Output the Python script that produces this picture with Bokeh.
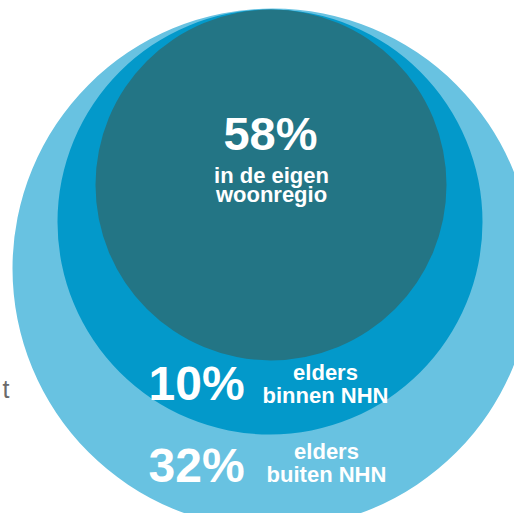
from bokeh.plotting import figure
from bokeh.models import Range1d, ColumnDataSource
from bokeh.core.properties import value
from bokeh.embed import file_html
from bokeh.resources import INLINE

# ---- data ----
categories = ["elders buiten NHN", "elders binnen NHN", "in de eigen woonregio"]
percentages = [32, 10, 58]
pct_labels = ["32%", "10%", "58%"]
desc_line1 = ["elders", "elders", "in de eigen"]
desc_line2 = ["buiten NHN", "binnen NHN", "woonregio"]
side_text = ["t"]

# ---- layout / style (pixel space of the picture) ----
circle_x = [272, 269.5, 270.5]
circle_y = [268, 221.5, 184.5]
circle_r = [260, 212.5, 175.5]
colors = ["#68C2E1", "#0399CA", "#237585"]

W, H = 514, 513
p = figure(width=W, height=H, output_backend="svg", toolbar_location=None,
           x_range=Range1d(0, W), y_range=Range1d(H, 0), min_border=0)
p.axis.visible = False
p.grid.visible = False
p.outline_line_color = None
p.background_fill_color = "white"
p.border_fill_color = "white"

src = ColumnDataSource(dict(x=circle_x, y=circle_y, r=circle_r, c=colors, cat=categories))
p.circle(x="x", y="y", radius="r", fill_color="c", line_color=None, source=src)

font = value("Liberation Sans")

# big percentages
big_x = [148, 148, 270]
big_y = [465, 383, 133]
big_align = ["left", "left", "center"]
big_size = ["48px", "48px", "47px"]
for i in range(3):
    p.text(x=[big_x[i]], y=[big_y[i]], text=[pct_labels[i]], text_font=font,
           text_font_style="bold", text_font_size=big_size[i], text_color="white",
           text_align=big_align[i], text_baseline="alphabetic")

# descriptions
d_x = [326, 325, 271]
d_y1 = [450.5, 371.5, 174.5]
d_y2 = [473.5, 394.5, 193.5]
for i in range(3):
    p.text(x=[d_x[i]], y=[d_y1[i]], text=[desc_line1[i]], text_font=font,
           text_font_style="bold", text_font_size="22px", text_color="white",
           text_align="center", text_baseline="alphabetic")
    p.text(x=[d_x[i]], y=[d_y2[i]], text=[desc_line2[i]], text_font=font,
           text_font_style="bold", text_font_size="22px", text_color="white",
           text_align="center", text_baseline="alphabetic")

p.text(x=[2], y=[388], text=side_text, text_font=font, text_font_size="25px",
       text_color="#6b6b6b", text_align="left", text_baseline="alphabetic")

open("out.html", "w").write(file_html(p, INLINE))
